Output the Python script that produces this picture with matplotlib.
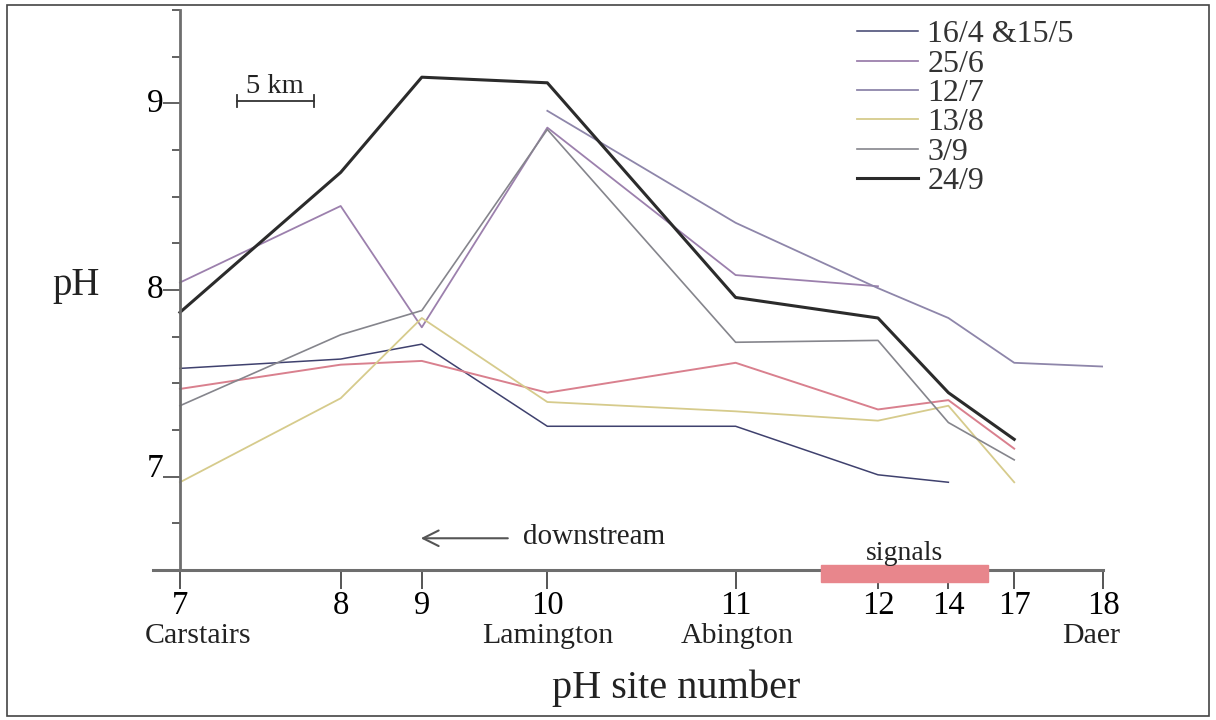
import matplotlib
matplotlib.use("Agg")
import matplotlib.pyplot as plt
from matplotlib.patches import Rectangle

# site numbers and their position along the river (km from site 7)
sites = ["7", "8", "9", "10", "11", "12", "14", "17", "18"]
site_km = [0, 10.5, 15.8, 24.0, 36.3, 45.6, 50.2, 54.5, 60.3]
places = ["Carstairs", "Lamington", "Abington", "Daer"]
place_km = [1.2, 24.0, 36.4, 59.5]

# pH per survey (index into sites)
ph_16_4 = [7.58, 7.63, 7.71, 7.27, 7.27, 7.01, 6.97]          # sites 7..14
ph_15_5 = [7.47, 7.60, 7.62, 7.45, 7.61, 7.36, 7.41, 7.15]    # sites 7..17
ph_25_6 = [8.04, 8.45, 7.80, 8.87, 8.08, 8.02]                # sites 7..12
ph_12_7 = [8.96, 8.36, 8.01, 7.85, 7.61, 7.59]                # sites 10..18
ph_13_8 = [6.97, 7.42, 7.85, 7.40, 7.35, 7.30, 7.38, 6.97]    # sites 7..17
ph_3_9 = [7.38, 7.76, 7.89, 8.86, 7.72, 7.73, 7.29, 7.09]     # sites 7..17
ph_24_9 = [7.88, 8.63, 9.14, 9.11, 7.96, 7.85, 7.45, 7.20]    # sites 7..17

signals_km = (41.9, 52.8)

plt.rcParams["font.family"] = ["Liberation Serif", "DejaVu Serif"]

fig = plt.figure(figsize=(12.16, 7.2), dpi=100)
ax = fig.add_axes([153 / 1216, 150 / 720, 950 / 1216, 560 / 720])

ax.plot(site_km[:7], ph_16_4, color="#3f416e", lw=1.1, label="16/4 &15/5")
ax.plot(site_km[:8], ph_15_5, color="#d9808e", lw=1.4)
ax.plot(site_km[:6], ph_25_6, color="#9c80ad", lw=1.3, label="25/6")
ax.plot(site_km[3:], ph_12_7, color="#8e86aa", lw=1.3, label="12/7")
ax.plot(site_km[:8], ph_13_8, color="#d6cb8c", lw=1.3, label="13/8")
ax.plot(site_km[:8], ph_3_9, color="#85858c", lw=1.2, label="3/9")
ax.plot(site_km[:8], ph_24_9, color="#2b2b2b", lw=2.2, label="24/9")

ax.set_xlim(-1.76, 60.3)
ax.set_ylim(6.5, 9.5)

for s in ["top", "right"]:
    ax.spines[s].set_visible(False)
ax.spines["left"].set_position(("data", 0))
ax.spines["left"].set_color("#6e6e6e")
ax.spines["left"].set_linewidth(2.0)
ax.spines["bottom"].set_color("#6e6e6e")
ax.spines["bottom"].set_linewidth(2.2)

ax.set_xticks(site_km)
ax.set_xticklabels(sites)
ax.tick_params(axis="x", direction="out", length=14, width=1.4, color="#555555",
               labelsize=23.5, pad=1)

ax.set_yticks([7, 8, 9])
ax.set_yticklabels(["7", "8", "9"])
ax.set_yticks([6.5 + 0.25 * i for i in range(13) if i % 4 != 2], minor=True)
ax.tick_params(axis="y", which="major", direction="out", length=12, width=1.3,
               color="#555555", labelsize=24, pad=0)
ax.tick_params(axis="y", which="minor", direction="out", length=6, width=1.3,
               color="#555555")
for lbl, va in zip(ax.get_yticklabels(), ["baseline", "center", "center"]):
    lbl.set_verticalalignment(va)

# place names under the site numbers
for name, km in zip(places, place_km):
    ax.text(km, -0.118, name, transform=ax.get_xaxis_transform(),
            ha="center", va="center", fontsize=21.5, color="#222222")

ax.text(32.4, -0.211, "pH site number", transform=ax.get_xaxis_transform(),
        ha="center", va="center", fontsize=29, color="#222222")
fig.text(76 / 1216, 1 - 286 / 720, "pH", ha="center", va="center",
         fontsize=28, color="#222222")

# 5 km scale bar
ax.plot([3.73, 8.73], [9.012, 9.012], color="#333333", lw=1.3)
for x0 in [3.73, 8.73]:
    ax.plot([x0, x0], [8.98, 9.045], color="#333333", lw=1.3)
ax.text(6.2, 9.025, "5 km", ha="center", va="bottom", fontsize=20.5, color="#222222")

# downstream arrow
ax.annotate("", xy=(15.55, 6.67), xytext=(21.6, 6.67),
            arrowprops=dict(arrowstyle="->", color="#555555", lw=1.5,
                            mutation_scale=28), annotation_clip=False)
ax.text(22.4, 6.675, "downstream", ha="left", va="center", fontsize=21,
        color="#222222")

# signals bar on the axis
ax.add_patch(Rectangle((signals_km[0], 6.436), signals_km[1] - signals_km[0], 0.09,
                       color="#e8868c", clip_on=False, zorder=3))
ax.text(sum(signals_km) / 2, 6.59, "signals", ha="center", va="center",
        fontsize=20, color="#222222", zorder=4)

leg = ax.legend(loc="upper left", bbox_to_anchor=(857 / 1216, 1 - 20 / 720),
                bbox_transform=fig.transFigure, frameon=False, fontsize=23,
                handlelength=1.9, handletextpad=0.3, labelspacing=0.0,
                borderpad=0, borderaxespad=0)
for t in leg.get_texts():
    t.set_color("#333333")

fig.add_artist(Rectangle((7 / 1216, 4 / 720), 1202 / 1216, 711 / 720,
                         transform=fig.transFigure, fill=False,
                         edgecolor="#444444", lw=1.2))

fig.savefig("out.png", dpi=100)
